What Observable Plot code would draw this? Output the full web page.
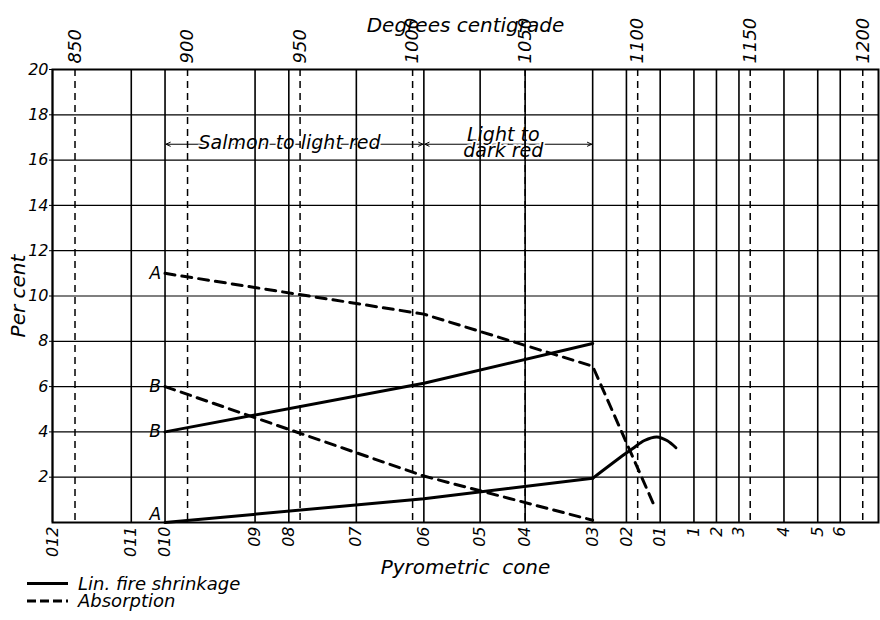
<!DOCTYPE html>
<html><head><meta charset="utf-8">
<script src="https://cdn.jsdelivr.net/npm/d3@7"></script>
<script src="https://cdn.jsdelivr.net/npm/@observablehq/plot@0.6"></script>
<style>
body{margin:0;background:#fff;}
#wrap{position:relative;width:880px;height:620px;}
</style></head><body><div id="wrap"></div>
<script>
// Pyrometric cones and their temperatures (deg C)
const coneLabels = ["012","011","010","09","08","07","06","05","04","03","02","01","1","2","3","4","5","6"];
const coneTemps  = [840,875,890,930,945,975,1005,1030,1050,1080,1095,1110,1125,1135,1145,1165,1180,1190];
const tempTicks  = [850,900,950,1000,1050,1100,1150,1200];
const xDomain    = [840,1207];
const yDomain    = [0,20];
const yTicks     = [2,4,6,8,10,12,14,16,18,20];

// Series (t = temperature, v = per cent)
const absorptionA = [{t:890,v:11.0},{t:1005,v:9.2},{t:1080,v:6.9},{t:1108,v:0.6}];
const absorptionB = [{t:890,v:6.0},{t:1005,v:2.05},{t:1080,v:0.1}];
const shrinkageB  = [{t:890,v:4.0},{t:1005,v:6.15},{t:1080,v:7.9}];
const shrinkageA  = [{t:890,v:0.0},{t:1005,v:1.05},{t:1080,v:1.95}];
const shrinkageATail = [{t:1080,v:1.95},{t:1094,v:3.0},{t:1098,v:3.28},{t:1103,v:3.62},{t:1108.5,v:3.78},{t:1113,v:3.62},{t:1117,v:3.3}];

// Colour ranges annotation
const colorBands = [{from:890,to:1005,label:"Salmon to light red"},{from:1005,to:1080,label:"Light to\ndark red"}];
const bandLevel = 16.7;

const legendNames = ["Lin. fire shrinkage","Absorption"];
const titles = {top:"Degrees centigrade", bottom:"Pyrometric\u00a0 cone", left:"Per cent"};

const coneByTemp = new Map(coneTemps.map((t,i)=>[t,coneLabels[i]]));
const seriesLabels = [
  {...absorptionA[0], label:"A"},
  {...absorptionB[0], label:"B"},
  {...shrinkageB[0], label:"B"}
];
const bottomLabel = [{...shrinkageA[0], label:"A"}];

const mid = d => (d.from + d.to) / 2;

const chart = Plot.plot({
  width: 880, height: 620,
  marginTop: 69, marginBottom: 98, marginLeft: 52, marginRight: 2,
  style: {fontFamily:"DejaVu Sans", fontStyle:"italic", background:"white", color:"black", overflow:"visible"},
  x: {domain: xDomain},
  y: {domain: yDomain},
  marks: [
    Plot.arrow(colorBands, {x1: mid, x2: "from", y1: () => bandLevel, y2: () => bandLevel, stroke:"black", strokeWidth:1, headLength:7, headAngle:50, insetEnd:1}),
    Plot.arrow(colorBands, {x1: mid, x2: "to", y1: () => bandLevel, y2: () => bandLevel, stroke:"black", strokeWidth:1, headLength:7, headAngle:50, insetEnd:1}),
    Plot.text(colorBands, {x: mid, y: () => bandLevel, text:"label", dx:-5, fontSize:19, lineHeight:0.85, fill:"black", stroke:"white", strokeWidth:3.5}),
    Plot.ruleY(yTicks, {stroke:"black", strokeWidth:1.2}),
    Plot.ruleX(tempTicks, {stroke:"black", strokeWidth:1.5, strokeDasharray:"7,5"}),
    Plot.ruleX(coneTemps, {stroke:"black", strokeWidth:1.6}),
    Plot.frame({stroke:"black", strokeWidth:2}),
    Plot.line(absorptionA, {x:"t", y:"v", stroke:"black", strokeWidth:3, strokeDasharray:"10,7"}),
    Plot.line(absorptionB, {x:"t", y:"v", stroke:"black", strokeWidth:3, strokeDasharray:"10,7"}),
    Plot.line(shrinkageB, {x:"t", y:"v", stroke:"black", strokeWidth:3}),
    Plot.line(shrinkageA, {x:"t", y:"v", stroke:"black", strokeWidth:3}),
    Plot.line(shrinkageATail, {x:"t", y:"v", stroke:"black", strokeWidth:3, curve:"catmull-rom"}),
    Plot.text(seriesLabels, {x:"t", y:"v", text:"label", textAnchor:"end", dx:-4, fontSize:17, fill:"black"}),
    Plot.text(bottomLabel, {x:"t", y:"v", text:"label", textAnchor:"end", dx:-4, dy:-8, fontSize:17, fill:"black"}),
    Plot.axisY({ticks:yTicks, tickSize:3, tickPadding:1, fontSize:16, label:null}),
    Plot.axisX({anchor:"bottom", ticks:coneTemps, tickFormat: d => coneByTemp.get(d), tickSize:0, tickPadding:4, tickRotate:-90, fontSize:16, label:null}),
    Plot.axisX({anchor:"top", ticks:tempTicks, tickFormat: d => String(d), tickSize:0, tickPadding:6, tickRotate:-90, fontSize:18, label:null}),
    Plot.text([titles.top], {text: d => d, frameAnchor:"top", dy:-52, fontSize:20, fill:"black"}),
    Plot.text([titles.bottom], {text: d => d, frameAnchor:"bottom", dy:51, fontSize:20, fill:"black"}),
    Plot.text([titles.left], {text: d => d, frameAnchor:"left", textAnchor:"middle", dx:-34, rotate:-90, fontSize:20, fill:"black"})
  ]
});

const wrap = document.getElementById("wrap");
wrap.appendChild(chart);

// Legend below the plot frame
const ns = "http://www.w3.org/2000/svg";
const leg = document.createElementNS(ns, "svg");
leg.setAttribute("width", 300); leg.setAttribute("height", 50);
leg.style.cssText = "position:absolute;left:0;top:570px;font-family:'DejaVu Sans';font-style:italic;font-size:18px";
legendNames.forEach((name, i) => {
  const y = 13.5 + i * 17.6;
  const ln = document.createElementNS(ns, "line");
  ln.setAttribute("x1", 27); ln.setAttribute("x2", 68);
  ln.setAttribute("y1", y); ln.setAttribute("y2", y);
  ln.setAttribute("stroke", "black"); ln.setAttribute("stroke-width", 3);
  if (i === 1) ln.setAttribute("stroke-dasharray", "9,4");
  leg.appendChild(ln);
  const tx = document.createElementNS(ns, "text");
  tx.setAttribute("x", 78); tx.setAttribute("y", y + 6);
  tx.textContent = name;
  leg.appendChild(tx);
});
wrap.appendChild(leg);
</script>
</body></html>
